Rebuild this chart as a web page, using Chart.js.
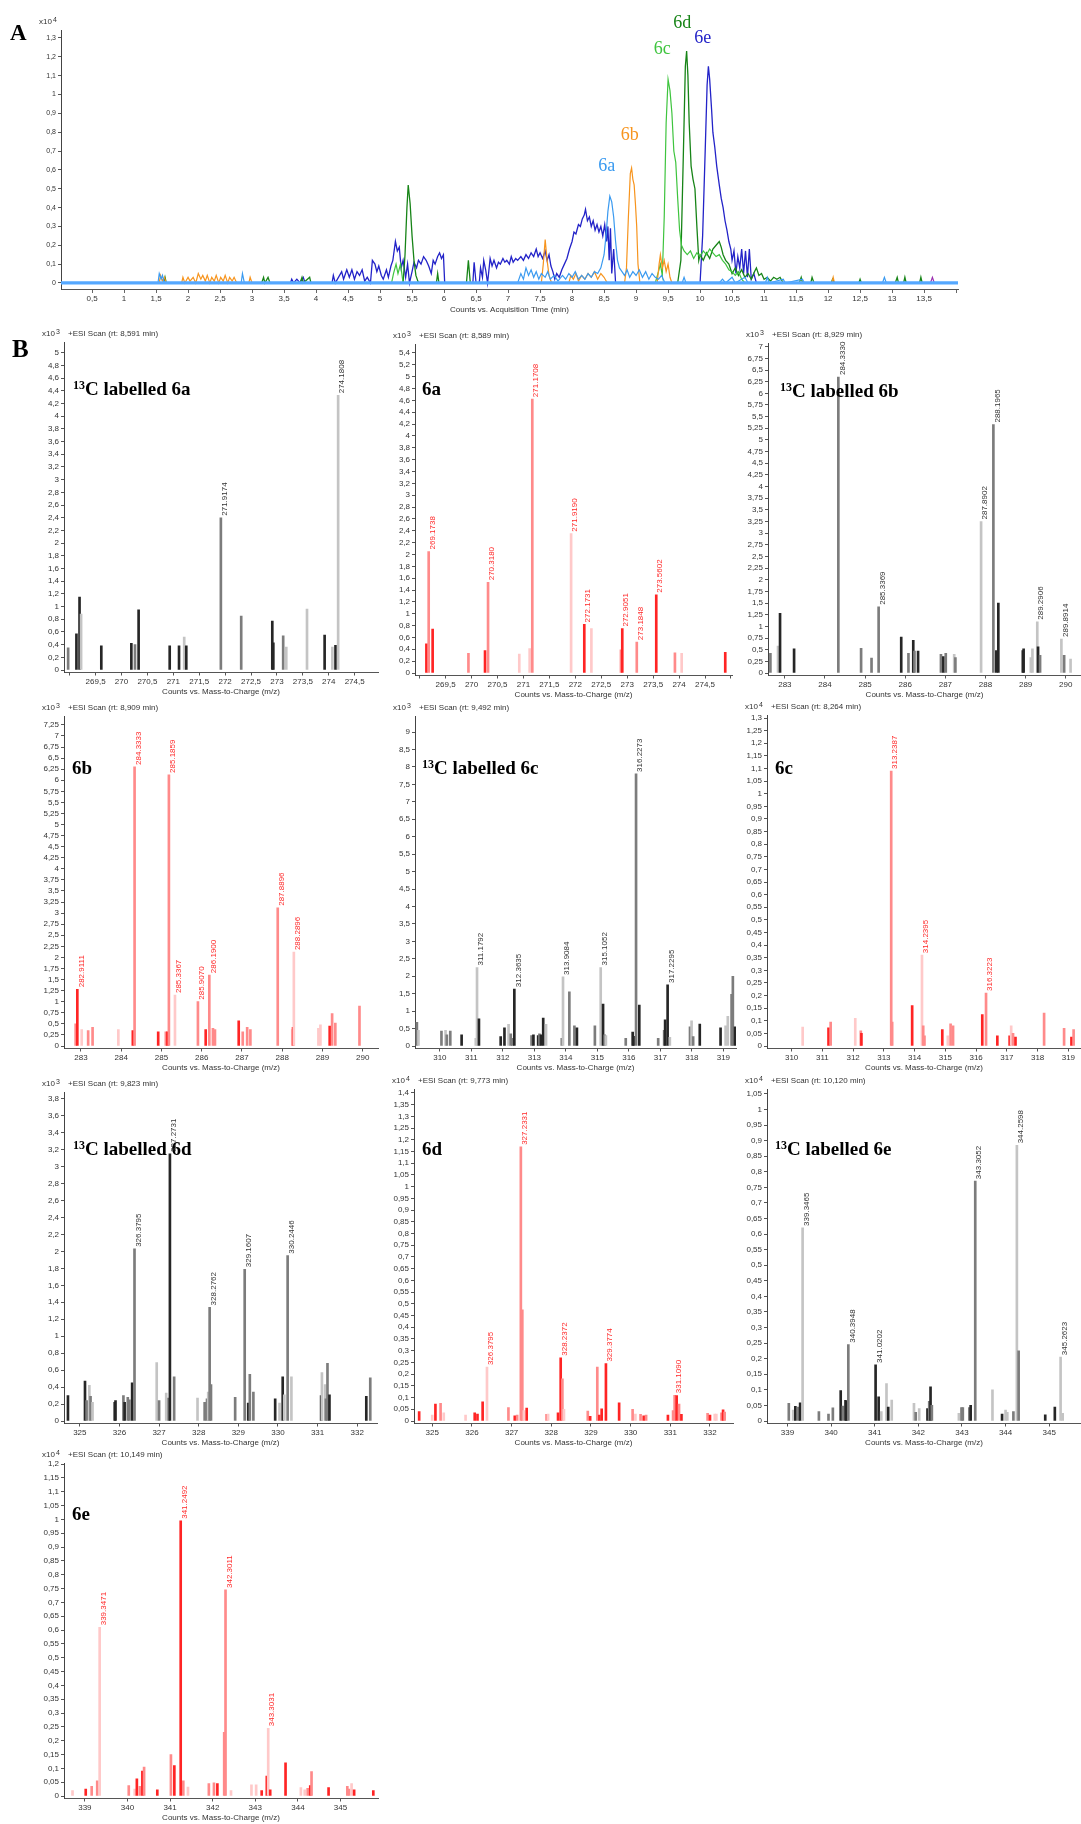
<!DOCTYPE html>
<html>
<head>
<meta charset="utf-8">
<script src="https://cdn.jsdelivr.net/npm/chart.js@4.4.1/dist/chart.umd.min.js"></script>
<style>
html, body { margin: 0; padding: 0; background: #fff; }
#page { position: relative; width: 1081px; height: 1824px; overflow: hidden; background: #fff; }
#page canvas { position: absolute; left: 0; top: 0; }
</style>
</head>
<body>
<div id="page"></div>
<script>
// ---- A: chromatogram traces, [time (min), counts x10^4] ----
const trace6a = [[0.1,0],[1.53,0],[1.55,0.05],[1.58,0.02],[1.6,0.04],[1.63,0],[2.83,0],[2.85,0.05],[2.88,0],[7.15,0],[7.2,0.05],[7.24,0.02],[7.28,0.08],[7.32,0.04],[7.36,0.07],[7.4,0.03],[7.44,0.06],[7.48,0.02],[7.52,0.05],[7.58,0.03],[7.62,0.06],[7.66,0.02],[7.72,0.04],[7.78,0.01],[7.85,0.04],[7.9,0.02],[7.95,0.05],[8.0,0.03],[8.05,0.06],[8.1,0.02],[8.15,0.04],[8.2,0.02],[8.25,0.05],[8.3,0.03],[8.35,0.06],[8.4,0.05],[8.45,0.08],[8.5,0.15],[8.53,0.25],[8.56,0.38],[8.59,0.46],[8.62,0.43],[8.65,0.35],[8.68,0.22],[8.71,0.12],[8.74,0.08],[8.78,0.06],[8.82,0.04],[8.86,0.07],[8.9,0.03],[8.95,0.06],[9.0,0.04],[9.05,0.07],[9.1,0.03],[9.15,0.06],[9.2,0.02],[9.25,0.05],[9.3,0.03],[9.35,0.02],[9.4,0.04],[9.45,0],[9.72,0],[9.75,0.03],[9.78,0],[10.3,0],[10.35,0.02],[10.4,0],[10.5,0.03],[10.55,0],[10.7,0.03],[10.75,0],[11.02,0],[11.05,0.03],[11.08,0],[11.3,0.02],[11.33,0],[11.6,0.02],[11.63,0],[12.85,0],[12.88,0.03],[12.91,0],[14,0]];
const trace6b = [[0.1,0],[1.55,0],[1.57,0.04],[1.6,0.01],[1.63,0.03],[1.66,0],[1.9,0],[1.92,0.03],[1.95,0],[2.0,0.03],[2.03,0.01],[2.08,0.03],[2.12,0],[2.16,0.05],[2.2,0.02],[2.23,0.04],[2.27,0.01],[2.3,0.04],[2.34,0],[2.37,0.03],[2.41,0.01],[2.44,0.04],[2.48,0],[2.51,0.03],[2.55,0.01],[2.58,0.04],[2.62,0],[2.65,0.03],[2.69,0.01],[2.72,0.03],[2.76,0],[2.95,0],[2.97,0.03],[3.0,0],[7.52,0],[7.55,0.1],[7.58,0.23],[7.61,0.12],[7.64,0.04],[7.68,0],[7.95,0],[7.98,0.04],[8.02,0.02],[8.06,0.05],[8.1,0.01],[8.15,0.04],[8.2,0.02],[8.25,0.05],[8.3,0.03],[8.35,0.06],[8.4,0.02],[8.45,0.05],[8.5,0.03],[8.55,0],[8.82,0],[8.85,0.08],[8.88,0.35],[8.91,0.58],[8.93,0.61],[8.95,0.55],[8.97,0.52],[8.99,0.42],[9.01,0.3],[9.03,0.1],[9.06,0],[9.33,0],[9.36,0.1],[9.38,0.15],[9.41,0.08],[9.44,0.12],[9.47,0.06],[9.5,0.1],[9.53,0.03],[9.56,0],[12.06,0],[12.08,0.03],[12.1,0],[14,0]];
const trace6c = [[0.1,0],[5.18,0],[5.21,0.05],[5.25,0.1],[5.28,0.05],[5.32,0.1],[5.36,0],[9.3,0],[9.35,0.06],[9.38,0.1],[9.41,0.04],[9.44,0.35],[9.47,0.85],[9.5,1.08],[9.53,1.02],[9.56,0.9],[9.59,0.7],[9.62,0.64],[9.65,0.45],[9.68,0.28],[9.71,0.2],[9.75,0.17],[9.8,0.15],[9.85,0.17],[9.9,0.13],[9.95,0.16],[10.0,0.14],[10.05,0.17],[10.1,0.15],[10.15,0.18],[10.2,0.16],[10.25,0.14],[10.3,0.15],[10.35,0.12],[10.4,0.1],[10.45,0.07],[10.5,0.06],[10.55,0.04],[10.6,0.06],[10.65,0.02],[10.7,0],[14,0]];
const trace6d = [[0.1,0],[1.62,0],[1.64,0.03],[1.66,0],[3.15,0],[3.18,0.03],[3.2,0],[3.25,0.03],[3.28,0],[3.75,0],[3.78,0.03],[3.8,0],[3.9,0.03],[3.92,0],[5.36,0],[5.39,0.15],[5.42,0.4],[5.44,0.52],[5.47,0.42],[5.5,0.25],[5.53,0.12],[5.56,0.04],[5.6,0],[5.88,0],[5.9,0.05],[5.92,0],[6.35,0],[6.38,0.12],[6.41,0],[9.65,0],[9.7,0.12],[9.74,0.7],[9.77,1.15],[9.79,1.23],[9.81,1.1],[9.83,0.85],[9.86,0.62],[9.89,0.55],[9.92,0.5],[9.95,0.3],[9.98,0.12],[10.0,0.15],[10.05,0.12],[10.1,0.16],[10.15,0.13],[10.2,0.18],[10.25,0.2],[10.3,0.22],[10.33,0.19],[10.36,0.15],[10.4,0.12],[10.45,0.1],[10.5,0.05],[10.55,0.08],[10.6,0.04],[10.65,0.07],[10.7,0.03],[10.75,0.05],[10.8,0.02],[10.85,0.06],[10.88,0.08],[10.92,0.04],[10.96,0.05],[11.0,0.02],[11.05,0.03],[11.1,0.01],[11.15,0.03],[11.2,0.02],[11.25,0.03],[11.3,0],[11.55,0],[11.58,0.03],[11.6,0],[11.73,0],[11.75,0.03],[11.78,0],[12.05,0],[12.07,0.02],[12.1,0],[12.48,0],[12.5,0.02],[12.52,0],[13.05,0],[13.08,0.03],[13.1,0],[13.18,0],[13.2,0.03],[13.22,0],[13.43,0],[13.45,0.03],[13.47,0],[14,0]];
const trace6e = [[0.1,0],[3.6,0],[3.62,0.02],[3.65,0],[3.7,0.02],[3.75,0],[3.8,0.03],[3.83,0],[4.25,0],[4.27,0.04],[4.3,0],[4.35,0.03],[4.4,0.06],[4.43,0.02],[4.48,0.07],[4.52,0.03],[4.56,0.07],[4.6,0.02],[4.64,0.06],[4.68,0.04],[4.72,0.07],[4.76,0.01],[4.8,0.03],[4.85,0],[4.88,0.12],[4.92,0.1],[4.95,0.06],[4.98,0.09],[5.02,0.04],[5.05,0.02],[5.1,0.07],[5.13,0.03],[5.17,0.09],[5.2,0.12],[5.24,0.22],[5.27,0.17],[5.3,0.19],[5.33,0.08],[5.36,0.12],[5.4,0.03],[5.43,0.1],[5.46,0],[5.5,0.06],[5.53,0.11],[5.57,0.08],[5.6,0.12],[5.64,0.1],[5.68,0.14],[5.72,0.12],[5.76,0.09],[5.8,0.05],[5.83,0.12],[5.86,0.1],[5.9,0.14],[5.93,0.16],[5.96,0.13],[5.99,0.15],[6.01,0],[6.45,0],[6.47,0.11],[6.5,0],[6.55,0],[6.57,0.08],[6.6,0.03],[6.62,0.12],[6.65,0.07],[6.68,0],[6.72,0.13],[6.75,0.09],[6.78,0.12],[6.82,0.08],[6.85,0.11],[6.88,0.1],[6.92,0.13],[6.95,0.11],[6.98,0.12],[7.02,0.1],[7.05,0.14],[7.08,0.11],[7.12,0.13],[7.15,0.12],[7.2,0.14],[7.24,0.12],[7.28,0.15],[7.32,0.13],[7.36,0.16],[7.4,0.14],[7.44,0.18],[7.47,0.14],[7.5,0.16],[7.54,0.13],[7.58,0.17],[7.61,0.12],[7.64,0.15],[7.67,0.09],[7.7,0.06],[7.73,0.02],[7.76,0.05],[7.8,0.03],[7.84,0.07],[7.88,0.1],[7.92,0.13],[7.96,0.18],[8.0,0.22],[8.03,0.27],[8.06,0.26],[8.1,0.31],[8.13,0.3],[8.16,0.34],[8.19,0.36],[8.21,0.39],[8.24,0.33],[8.27,0.35],[8.3,0.3],[8.33,0.33],[8.36,0.28],[8.39,0.31],[8.42,0.27],[8.45,0.3],[8.48,0.25],[8.51,0.31],[8.54,0.22],[8.56,0.3],[8.58,0.12],[8.6,0.29],[8.62,0.05],[8.65,0.18],[8.68,0],[10.0,0],[10.04,0.25],[10.08,0.7],[10.11,1.05],[10.13,1.15],[10.15,1.08],[10.18,0.92],[10.2,0.8],[10.23,0.72],[10.26,0.62],[10.3,0.52],[10.33,0.45],[10.36,0.4],[10.39,0.33],[10.42,0.28],[10.45,0.22],[10.48,0.18],[10.5,0.12],[10.53,0.17],[10.56,0.05],[10.59,0.14],[10.62,0.08],[10.65,0.18],[10.68,0.05],[10.71,0.17],[10.74,0.03],[10.77,0.18],[10.8,0.02],[10.84,0.05],[10.88,0],[14,0]];
const traceOther = [[0.1,0],[13.6,0],[13.63,0.03],[13.66,0],[14,0]];
const baseline6a = [[0.015,0],[14.03,0]];

// ---- B: mass spectra (m/z, counts) ----
const p1Mz = [268.97,269.13,269.19,269.22,269.61,270.19,270.26,270.33,270.93,271.11,271.21,271.25,271.9174,272.31,272.91,272.93,273.12,273.18,273.58,273.92,274.07,274.13,274.1808];
const p1Int = [0.35,0.57,1.15,0.88,0.38,0.42,0.40,0.95,0.38,0.38,0.52,0.38,2.40,0.85,0.77,0.43,0.54,0.36,0.96,0.55,0.36,0.39,4.33];
const p1Tags = ['271.9174','274.1808'];

const p2Mz = [269.13,269.1738,269.25,269.94,270.26,270.318,270.92,271.12,271.1708,271.919,272.1731,272.31,272.88,272.9051,273.1848,273.5602,273.92,274.05,274.89];
const p2Int = [0.49,2.05,0.74,0.33,0.38,1.53,0.32,0.41,4.62,2.35,0.82,0.75,0.39,0.75,0.52,1.32,0.34,0.33,0.35];
const p2Tags = ['269.1738','270.3180','271.1708','271.9190','272.1731','272.9051','273.1848','273.5602'];

const p3Mz = [282.64,282.83,282.88,283.23,284.333,284.90,285.16,285.3369,285.90,286.08,286.20,286.23,286.32,286.89,286.95,287.01,287.22,287.25,287.8902,288.1965,288.27,288.32,288.93,288.95,289.13,289.17,289.2906,289.31,289.36,289.8914,289.96,290.12];
const p3Int = [0.42,0.58,1.28,0.52,6.35,0.53,0.32,1.42,0.77,0.42,0.70,0.47,0.47,0.40,0.35,0.42,0.40,0.33,3.25,5.33,0.48,1.50,0.48,0.52,0.33,0.52,1.10,0.56,0.38,0.73,0.38,0.30];
const p3Tags = ['284.3330','285.3369','287.8902','288.1965','289.2906','289.8914'];

const p4Mz = [282.87,282.9111,283.02,283.18,283.29,283.93,284.29,284.3333,284.92,285.11,285.15,285.1859,285.3367,285.907,286.10,286.19,286.28,286.33,286.92,287.02,287.13,287.21,287.8896,288.25,288.27,288.2896,288.90,288.95,289.18,289.24,289.32,289.92];
const p4Int = [0.50,1.28,0.37,0.35,0.42,0.37,0.35,6.3,0.32,0.32,0.32,6.12,1.15,1.0,0.37,1.60,0.40,0.37,0.57,0.32,0.42,0.37,3.12,0.37,0.42,2.12,0.40,0.48,0.45,0.73,0.52,0.90];
const p4Tags = ['282.9111','284.3333','285.1859','285.3367','285.9070','286.1900','287.8896','288.2896'];

const p5Mz = [309.27,309.32,310.05,310.18,310.22,310.33,310.69,311.14,311.1792,311.24,311.93,312.05,312.18,312.25,312.30,312.3635,312.91,312.97,313.12,313.16,313.21,313.28,313.37,313.87,313.9084,314.11,314.27,314.35,314.92,315.1052,315.18,315.23,315.27,315.90,316.12,316.15,316.2273,316.33,316.93,317.12,317.15,317.2295,317.30,317.94,317.99,318.04,318.25,318.91,319.07,319.14,319.26,319.30,319.37];
const p5Int = [0.68,0.45,0.43,0.45,0.32,0.43,0.32,0.22,2.25,0.78,0.27,0.52,0.62,0.35,0.22,1.63,0.30,0.32,0.30,0.35,0.32,0.80,0.62,0.22,1.98,1.55,0.58,0.52,0.58,2.25,1.20,0.32,0.30,0.22,0.40,0.28,7.80,1.17,0.22,0.45,0.75,1.75,0.25,0.55,0.72,0.27,0.63,0.52,0.58,0.85,1.48,2.00,0.55];
const p5Tags = ['311.1792','312.3635','313.9084','315.1052','316.2273','317.2295'];

const p6Mz = [310.36,311.20,311.27,312.07,312.25,312.27,313.2387,313.27,313.92,314.2395,314.28,314.32,314.90,315.08,315.17,315.25,316.20,316.3223,316.69,317.09,317.14,317.20,317.28,318.21,318.86,319.10,319.17];
const p6Int = [0.075,0.072,0.095,0.11,0.06,0.05,1.09,0.095,0.16,0.36,0.08,0.04,0.065,0.04,0.088,0.08,0.125,0.21,0.04,0.04,0.08,0.05,0.035,0.13,0.07,0.035,0.065];
const p6Tags = ['313.2387','314.2395','316.3223'];

const p7Mz = [324.70,325.13,325.17,325.24,325.27,325.32,325.88,325.90,326.10,326.13,326.21,326.25,326.32,326.3795,326.94,327.00,327.18,327.24,327.2731,327.38,327.97,328.15,328.21,328.24,328.2762,328.31,328.92,329.1607,329.25,329.29,329.38,329.93,330.04,330.12,330.16,330.2446,330.34,331.09,331.11,331.19,331.21,331.25,331.30,332.23,332.33];
const p7Int = [0.30,0.47,0.24,0.42,0.29,0.22,0.22,0.24,0.30,0.22,0.28,0.25,0.45,2.03,0.69,0.24,0.33,0.27,3.15,0.52,0.27,0.22,0.26,0.34,1.34,0.43,0.28,1.79,0.21,0.55,0.34,0.26,0.21,0.52,0.31,1.95,0.52,0.30,0.57,0.43,0.26,0.68,0.31,0.29,0.51];
const p7Tags = ['326.3795','327.2731','328.2762','329.1607','330.2446'];

const p8Mz = [324.67,325.00,325.08,325.21,325.29,325.84,326.07,326.14,326.27,326.3795,326.92,327.08,327.14,327.2331,327.27,327.31,327.38,327.88,327.92,328.17,328.2372,328.28,328.32,328.92,328.98,329.16,329.21,329.27,329.3774,329.71,330.05,330.12,330.25,330.33,330.39,330.94,331.07,331.109,331.16,331.22,331.28,331.94,332.00,332.12,332.16,332.29,332.33,332.37];
const p8Int = [0.04,0.025,0.072,0.075,0.035,0.025,0.035,0.03,0.082,0.23,0.057,0.022,0.025,1.17,0.475,0.045,0.055,0.028,0.03,0.035,0.27,0.18,0.05,0.042,0.02,0.23,0.025,0.052,0.245,0.078,0.05,0.03,0.028,0.022,0.025,0.025,0.045,0.11,0.108,0.072,0.028,0.033,0.025,0.03,0.03,0.035,0.048,0.038];
const p8Tags = ['326.3795','327.2331','328.2372','329.3774','331.1090'];

const p9Mz = [339.03,339.13,339.18,339.25,339.29,339.3465,339.72,339.94,340.04,340.22,340.27,340.33,340.35,340.3948,341.0202,341.09,341.15,341.27,341.31,341.39,341.90,341.94,342.02,342.21,342.25,342.28,342.31,342.93,342.99,343.02,343.17,343.20,343.3052,343.70,343.92,344.00,344.04,344.18,344.2598,344.30,344.91,345.13,345.2623,345.31];
const p9Int = [0.057,0.035,0.047,0.045,0.058,0.62,0.03,0.022,0.042,0.098,0.048,0.066,0.063,0.245,0.18,0.078,0.03,0.12,0.045,0.067,0.057,0.028,0.04,0.04,0.063,0.11,0.05,0.025,0.043,0.043,0.043,0.05,0.77,0.10,0.022,0.035,0.028,0.03,0.885,0.225,0.02,0.045,0.205,0.025];
const p9Tags = ['339.3465','340.3948','341.0202','343.3052','344.2598','345.2623'];

const p10Mz = [338.71,339.02,339.16,339.29,339.3471,340.03,340.17,340.22,340.29,340.35,340.39,340.70,341.02,341.10,341.2492,341.31,341.42,341.91,342.03,342.11,342.27,342.3011,342.43,342.91,343.02,343.15,343.27,343.3031,343.35,343.71,344.07,344.16,344.23,344.29,344.32,344.72,345.16,345.20,345.26,345.32,345.77];
const p10Int = [0.02,0.025,0.035,0.055,0.61,0.038,0.025,0.062,0.035,0.09,0.105,0.022,0.15,0.11,0.995,0.055,0.032,0.045,0.048,0.045,0.23,0.745,0.02,0.04,0.04,0.02,0.072,0.245,0.022,0.12,0.03,0.022,0.028,0.038,0.088,0.03,0.035,0.025,0.045,0.022,0.02];
const p10Tags = ['339.3471','341.2492','342.3011','343.3031'];

// ---- styles ----
// bar shade per peak: r/p/l = red, pink, pale ; d/g/l = dark, grey, pale
const p1Shade = 'gddlddgdddldggddglldldl';
const p2Shade = 'rprprpllplrlprprplr';
const p3Shade = 'glddggggdgdgdgdglglgddddllldglgl';
const p4Shade = 'prlpplrprprplprppprpppplrlllrppp';
const p5Shade = 'glglggdlldddlggdgddgddlglggdgldglgddgdggddlglgddllggd';
const p6Shade = 'lrplprpprlpprlpprprrlprpprp';
const p7Shade = 'ddglglddgdggdglglgdglgglggggdggdldlgldllggddg';
const p8Shade = 'rlrpllrrrlprppplrplrrplprprrrrplprprpprprprllprp';
const p9Shade = 'gldgdlgggdgddgddlldllgldgdglgggdgldllglgddll';
const p10Shade = 'lrpplplrprprprrplpprpplllrrlrrllprprpplrr';

const RED = { r: '#ff2424', p: '#ff8a8a', l: '#ffc9c9' };
const GREY = { d: '#262626', g: '#7c7c7c', l: '#c4c4c4' };
const SANS = '"Liberation Sans", Arial, sans-serif';
const SERIF = '"Liberation Serif", "Times New Roman", serif';
const W = 1081, H = 1824;

const page = document.getElementById('page');

function addCanvas() {
    const cv = document.createElement('canvas');
    cv.width = W; cv.height = H;
    page.appendChild(cv);
    return cv;
}

// numero con coma decimal
const fmt = v => String(Math.round(v * 1000) / 1000).replace('.', ',');

// ticks solo en multiplos exactos del paso, dentro del eje
function stepTicks(step, from) {
    return axis => {
        const out = [];
        const lo = Math.ceil(Math.max(axis.min, from) / step - 1e-6);
        const hi = Math.floor(axis.max / step + 1e-6);
        for (let k = lo; k <= hi; k++) out.push({ value: Math.round(k * step * 1e6) / 1e6 });
        axis.ticks = out;
    };
}

// textos extra: cabecera, etiqueta del panel, picos anotados
const decor = {
    id: 'decor',
    afterDraw(chart, args, o) {
        const ctx = chart.ctx, a = chart.chartArea;
        const xs = chart.scales.x, ys = chart.scales.y;
        ctx.save();
        ctx.textAlign = 'left';
        ctx.textBaseline = 'middle';
        ctx.fillStyle = '#333';
        if (o.exp) {
            ctx.font = '8px ' + SANS;
            ctx.fillText('x10', a.left - 22, a.top - 8);
            ctx.font = '7px ' + SANS;
            ctx.fillText(o.exp, a.left - 8, a.top - 10);
        }
        if (o.scan) {
            ctx.font = '8px ' + SANS;
            ctx.fillText(o.scan, a.left + 4, a.top - 8);
        }
        if (o.title) {
            ctx.font = '8px ' + SANS;
            ctx.textAlign = 'center';
            ctx.fillText(o.title, (a.left + a.right) / 2, a.bottom + o.titleGap);
            ctx.textAlign = 'left';
        }
        if (o.letter) {
            ctx.fillStyle = '#000';
            ctx.textBaseline = 'alphabetic';
            ctx.font = 'bold ' + o.letter[3] + 'px ' + SERIF;
            ctx.fillText(o.letter[0], o.letter[1], o.letter[2]);
            ctx.textBaseline = 'middle';
        }
        if (o.name) {
            ctx.fillStyle = '#000';
            let x = o.lab[0];
            if (o.c13) {
                ctx.font = 'bold 12px ' + SERIF;
                ctx.fillText('13', x, o.lab[1] - 4);
                x += ctx.measureText('13').width;
                ctx.font = 'bold 19px ' + SERIF;
                ctx.fillText('C labelled ' + o.name, x, o.lab[1]);
            } else {
                ctx.font = 'bold 19px ' + SERIF;
                ctx.fillText(o.name, x, o.lab[1]);
            }
        }
        if (o.tags) {
            const data = chart.data.datasets[0].data;
            ctx.font = '8px ' + SANS;
            ctx.fillStyle = o.tagColor;
            o.tags.forEach(t => {
                const v = parseFloat(t);
                let best = 0;
                data.forEach((d, i) => { if (Math.abs(d.x - v) < Math.abs(data[best].x - v)) best = i; });
                const px = xs.getPixelForValue(data[best].x) + 4;
                const py = ys.getPixelForValue(data[best].y) - 2;
                ctx.save();
                ctx.translate(px, py);
                ctx.rotate(-Math.PI / 2);
                ctx.fillText(t, 0, 0);
                ctx.restore();
            });
        }
        if (o.peakNames) {
            ctx.font = '18px ' + SERIF;
            ctx.textAlign = 'center';
            o.peakNames.forEach(p => {
                ctx.fillStyle = p.color;
                ctx.fillText(p.text, xs.getPixelForValue(p.t), ys.getPixelForValue(p.v));
            });
        }
        ctx.restore();
    }
};

function spectrum(o) {
    const pal = o.red ? RED : GREY;
    const data = o.mz.map((m, i) => ({ x: m, y: o.inten[i] }));
    const colors = o.mz.map((m, i) => pal[o.shade[i]] || (o.red ? RED.p : GREY.g));
    const perUnit = (o.zero - o.top) / o.ymax;
    const ymin = -2.5 / perUnit;
    const bottom = o.zero + 2.5;
    const yW = 30, xH = 24;
    new Chart(addCanvas(), {
        type: 'bar',
        data: { datasets: [{ data, backgroundColor: colors, barThickness: 2, borderWidth: 0 }] },
        options: {
            responsive: false,
            animation: false,
            events: [],
            layout: { padding: { left: o.left - yW, top: o.top, right: W - o.right, bottom: H - bottom - xH } },
            plugins: {
                legend: { display: false },
                tooltip: { enabled: false },
                decor: {
                    exp: o.exp, scan: o.scan, name: o.name, c13: o.c13, lab: o.lab, letter: o.letter,
                    tags: o.tags, tagColor: o.red ? '#ff2a2a' : '#333',
                    title: 'Counts vs. Mass-to-Charge (m/z)', titleGap: 19
                }
            },
            scales: {
                x: {
                    type: 'linear', min: o.xmin, max: o.xmax, offset: false,
                    afterFit: s => { s.height = xH; },
                    afterBuildTicks: stepTicks(o.xstep, o.xmin),
                    border: { display: true, color: '#555', width: 1 },
                    grid: { display: true, offset: false, drawOnChartArea: false, drawTicks: true, tickLength: 3, tickColor: '#555' },
                    ticks: {
                        stepSize: o.xstep, autoSkip: false, maxRotation: 0, padding: 1,
                        color: '#333', font: { family: SANS, size: 8 },
                        callback: v => (v - o.xmin < 0.3 * o.xstep || o.xmax - v < 0.3 * o.xstep) ? '' : fmt(v)
                    }
                },
                y: {
                    min: ymin, max: o.ymax,
                    afterFit: s => { s.width = yW; },
                    afterBuildTicks: stepTicks(o.ystep, 0),
                    border: { display: true, color: '#444', width: 1 },
                    grid: { display: true, drawOnChartArea: false, drawTicks: true, tickLength: 3, tickColor: '#555' },
                    ticks: {
                        stepSize: o.ystep, autoSkip: false, padding: 2,
                        color: '#333', font: { family: SANS, size: 8 },
                        callback: v => fmt(v)
                    }
                }
            }
        },
        plugins: [decor]
    });
}

// ---- panel A ----
const aStyle = [
    { data: baseline6a, color: '#55a8ff', width: 3.2 },
    { data: trace6a, color: '#3a9af0', width: 1.2 },
    { data: trace6b, color: '#f7941d', width: 1.2 },
    { data: trace6c, color: '#3ec43e', width: 1.2 },
    { data: trace6d, color: '#178417', width: 1.3 },
    { data: trace6e, color: '#2323c8', width: 1.3 },
    { data: traceOther, color: '#9b30b0', width: 1.2 }
];
const aNames = [
    { text: '6a', t: 8.54, v: 0.62, color: '#3a9af0' },
    { text: '6b', t: 8.9, v: 0.785, color: '#f7941d' },
    { text: '6c', t: 9.41, v: 1.24, color: '#3ec43e' },
    { text: '6d', t: 9.72, v: 1.38, color: '#178417' },
    { text: '6e', t: 10.04, v: 1.30, color: '#2323c8' }
];
(function () {
    const left = 61, right = 958, top = 30, bottom = 289, yW = 30, xH = 30;
    new Chart(addCanvas(), {
        type: 'line',
        data: {
            datasets: aStyle.map(s => ({
                data: s.data.map(p => ({ x: p[0], y: p[1] })),
                borderColor: s.color, borderWidth: s.width, pointRadius: 0, tension: 0, fill: false
            }))
        },
        options: {
            responsive: false,
            animation: false,
            events: [],
            layout: { padding: { left: left - yW, top: top, right: W - right, bottom: H - bottom - xH } },
            plugins: {
                legend: { display: false },
                tooltip: { enabled: false },
                decor: {
                    exp: '4', letter: ['A', 10, 40, 23], peakNames: aNames,
                    title: 'Counts vs. Acquisition Time (min)', titleGap: 21
                }
            },
            scales: {
                x: {
                    type: 'linear', min: 0.015, max: 14.03,
                    afterFit: s => { s.height = xH; },
                    afterBuildTicks: stepTicks(0.5, 0.5),
                    border: { display: true, color: '#555', width: 1 },
                    grid: { display: true, drawOnChartArea: false, drawTicks: true, tickLength: 4, tickColor: '#666' },
                    ticks: {
                        stepSize: 0.5, autoSkip: false, maxRotation: 0, padding: 1,
                        color: '#333', font: { family: SANS, size: 8 },
                        callback: v => v > 13.6 ? '' : fmt(v)
                    }
                },
                y: {
                    min: -0.032, max: 1.342,
                    afterFit: s => { s.width = yW; },
                    afterBuildTicks: stepTicks(0.1, 0),
                    border: { display: true, color: '#444', width: 1 },
                    grid: { display: true, drawOnChartArea: false, drawTicks: true, tickLength: 3, tickColor: '#555' },
                    ticks: {
                        stepSize: 0.1, autoSkip: false, padding: 2,
                        color: '#333', font: { family: SANS, size: 7 },
                        callback: v => fmt(v)
                    }
                }
            }
        },
        plugins: [decor]
    });
})();

// ---- panel B ----
spectrum({ mz: p1Mz, inten: p1Int, shade: p1Shade, tags: p1Tags, red: false, exp: '3', scan: '+ESI Scan (rt: 8,591 min)',
    name: '6a', c13: true, lab: [73, 390], letter: ['B', 12, 357, 25],
    left: 64, right: 378, top: 342, zero: 670, ymax: 5.17, ystep: 0.2, xmin: 268.89, xmax: 274.95, xstep: 0.5 });
spectrum({ mz: p2Mz, inten: p2Int, shade: p2Shade, tags: p2Tags, red: true, exp: '3', scan: '+ESI Scan (rt: 8,589 min)',
    name: '6a', c13: false, lab: [422, 390],
    left: 415, right: 732, top: 344, zero: 673, ymax: 5.55, ystep: 0.2, xmin: 268.91, xmax: 275.02, xstep: 0.5 });
spectrum({ mz: p3Mz, inten: p3Int, shade: p3Shade, tags: p3Tags, red: false, exp: '3', scan: '+ESI Scan (rt: 8,929 min)',
    name: '6b', c13: true, lab: [780, 392],
    left: 768, right: 1081, top: 343, zero: 673, ymax: 7.08, ystep: 0.25, xmin: 282.58, xmax: 290.38, xstep: 1 });
spectrum({ mz: p4Mz, inten: p4Int, shade: p4Shade, tags: p4Tags, red: true, exp: '3', scan: '+ESI Scan (rt: 8,909 min)',
    name: '6b', c13: false, lab: [72, 769],
    left: 64, right: 378, top: 716, zero: 1046, ymax: 7.45, ystep: 0.25, xmin: 282.58, xmax: 290.38, xstep: 1 });
spectrum({ mz: p5Mz, inten: p5Int, shade: p5Shade, tags: p5Tags, red: false, exp: '3', scan: '+ESI Scan (rt: 9,492 min)',
    name: '6c', c13: true, lab: [422, 769],
    left: 415, right: 736, top: 716, zero: 1046, ymax: 9.46, ystep: 0.5, xmin: 309.21, xmax: 319.40, xstep: 1 });
spectrum({ mz: p6Mz, inten: p6Int, shade: p6Shade, tags: p6Tags, red: true, exp: '4', scan: '+ESI Scan (rt: 8,264 min)',
    name: '6c', c13: false, lab: [775, 769],
    left: 767, right: 1081, top: 715, zero: 1046, ymax: 1.312, ystep: 0.05, xmin: 309.2, xmax: 319.41, xstep: 1 });
spectrum({ mz: p7Mz, inten: p7Int, shade: p7Shade, tags: p7Tags, red: false, exp: '3', scan: '+ESI Scan (rt: 9,823 min)',
    name: '6d', c13: true, lab: [73, 1150],
    left: 64, right: 377, top: 1092, zero: 1421, ymax: 3.88, ystep: 0.2, xmin: 324.6, xmax: 332.5, xstep: 1 });
spectrum({ mz: p8Mz, inten: p8Int, shade: p8Shade, tags: p8Tags, red: true, exp: '4', scan: '+ESI Scan (rt: 9,773 min)',
    name: '6d', c13: false, lab: [422, 1150],
    left: 414, right: 733, top: 1089, zero: 1421, ymax: 1.417, ystep: 0.05, xmin: 324.54, xmax: 332.58, xstep: 1 });
spectrum({ mz: p9Mz, inten: p9Int, shade: p9Shade, tags: p9Tags, red: false, exp: '4', scan: '+ESI Scan (rt: 10,120 min)',
    name: '6e', c13: true, lab: [775, 1150],
    left: 767, right: 1081, top: 1089, zero: 1421, ymax: 1.066, ystep: 0.05, xmin: 338.53, xmax: 345.73, xstep: 1 });
spectrum({ mz: p10Mz, inten: p10Int, shade: p10Shade, tags: p10Tags, red: true, exp: '4', scan: '+ESI Scan (rt: 10,149 min)',
    name: '6e', c13: false, lab: [72, 1515],
    left: 64, right: 378, top: 1463, zero: 1796, ymax: 1.204, ystep: 0.05, xmin: 338.51, xmax: 345.88, xstep: 1 });
</script>
</body>
</html>
